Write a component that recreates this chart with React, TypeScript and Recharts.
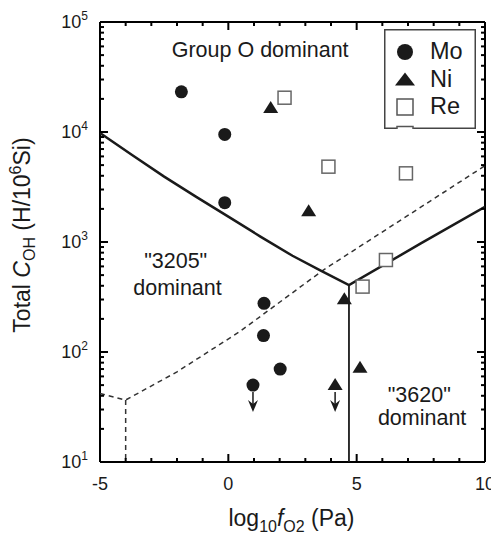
import React from 'react';
import { ScatterChart, Scatter, XAxis, YAxis, Legend, ReferenceDot, ReferenceLine, Label } from 'recharts';

// measured points (log10 fO2, total C_OH)
const moPoints = [
  { x: -1.83, y: 23200 },
  { x: -0.14, y: 9500 },
  { x: -0.14, y: 2280 },
  { x: 1.39, y: 277 },
  { x: 1.37, y: 141 },
  { x: 2.02, y: 70 },
  { x: 0.96, y: 50, limit: true },
];
const niPoints = [
  { x: 1.65, y: 16500 },
  { x: 3.13, y: 1900 },
  { x: 4.52, y: 301 },
  { x: 5.13, y: 72 },
  { x: 4.16, y: 50, limit: true },
];
const rePoints = [
  { x: 2.19, y: 20500 },
  { x: 3.9, y: 4840 },
  { x: 6.92, y: 4210 },
  { x: 6.14, y: 686 },
  { x: 5.23, y: 393 },
];

// field boundaries
const solidBoundary = [
  { x: -5, y: 9800 },
  { x: -3.75, y: 6170 },
  { x: -2.5, y: 3930 },
  { x: -1.25, y: 2570 },
  { x: 0, y: 1700 },
  { x: 1.25, y: 1120 },
  { x: 2.5, y: 750 },
  { x: 3.6, y: 550 },
  { x: 4.7, y: 406 },
  { x: 7.5, y: 970 },
  { x: 10, y: 2090 },
];
const solidVertical = [
  { x: 4.7, y: 406 },
  { x: 4.7, y: 10 },
];
const dashedBoundary = [
  { x: -5, y: 42 },
  { x: -4, y: 36.6 },
  { x: -2, y: 66 },
  { x: 0.44, y: 153 },
  { x: 3.7, y: 556 },
  { x: 10, y: 4940 },
];
const dashedVertical = [
  { x: -4, y: 36.6 },
  { x: -4, y: 10 },
];

const notes = [
  { x: 1.24, y: 48000, text: 'Group O dominant' },
  { x: -2.05, y: 577, text: '"3205"' },
  { x: -1.98, y: 330, text: 'dominant' },
  { x: 7.44, y: 35.3, text: '"3620"' },
  { x: 7.55, y: 21.7, text: 'dominant' },
];

const xTicks = [-5, -4, -3, -2, -1, 0, 1, 2, 3, 4, 5, 6, 7, 8, 9, 10];
const decades = [10, 100, 1000, 10000];
const yTicks = [...decades.flatMap((d) => [1, 2, 3, 4, 5, 6, 7, 8, 9].map((m) => d * m)), 100000];

const FONT = '"Liberation Sans", Arial, Helvetica, sans-serif';
const AXIS = '#000000';
const INK = '#1a1a1a';
const TICK_W = 2;

const isDecade = (v: number) => {
  const l = Math.log10(v);
  return Math.abs(l - Math.round(l)) < 1e-9;
};

// ticks point inward, drawn by hand so major/minor can differ in length
const LeftTick = ({ x, y, payload }: any) => {
  const major = isDecade(payload.value);
  return (
    <g>
      <line x1={x} x2={x + (major ? 8 : 4)} y1={y} y2={y} stroke={AXIS} strokeWidth={TICK_W} />
      {major && (
        <text x={x - 12} y={y + 6} textAnchor="end" fontSize={18} fill={INK} fontFamily={FONT}>
          10
          <tspan dy={-8} fontSize={12}>
            {Math.round(Math.log10(payload.value))}
          </tspan>
        </text>
      )}
    </g>
  );
};

const RightTick = ({ x, y, payload }: any) => {
  const major = isDecade(payload.value);
  return <line x1={x} x2={x - (major ? 8 : 4)} y1={y} y2={y} stroke={AXIS} strokeWidth={TICK_W} />;
};

const BottomTick = ({ x, y, payload }: any) => {
  const major = payload.value % 5 === 0;
  return (
    <g>
      <line x1={x} x2={x} y1={y} y2={y - (major ? 8 : 4)} stroke={AXIS} strokeWidth={TICK_W} />
      {major && (
        <text x={x} y={y + 28} textAnchor="middle" fontSize={18} fill={INK} fontFamily={FONT}>
          {String(payload.value)}
        </text>
      )}
    </g>
  );
};

const TopTick = ({ x, y, payload }: any) => {
  const major = payload.value % 5 === 0;
  return <line x1={x} x2={x} y1={y} y2={y + (major ? 8 : 4)} stroke={AXIS} strokeWidth={TICK_W} />;
};

const LimitArrow = ({ cx, cy }: { cx: number; cy: number }) => (
  <g>
    <line x1={cx} x2={cx} y1={cy + 7} y2={cy + 24} stroke={INK} strokeWidth={1.5} />
    <polygon
      points={`${cx - 5},${cy + 15} ${cx},${cy + 19} ${cx + 5},${cy + 15} ${cx},${cy + 27}`}
      fill={INK}
    />
  </g>
);

const MoShape = ({ cx, cy, payload }: any) => (
  <g>
    <circle cx={cx} cy={cy} r={6.5} fill={INK} />
    {payload.limit && <LimitArrow cx={cx} cy={cy} />}
  </g>
);

const NiShape = ({ cx, cy, payload }: any) => (
  <g>
    <polygon points={`${cx},${cy - 7} ${cx + 7.5},${cy + 5} ${cx - 7.5},${cy + 5}`} fill={INK} />
    {payload.limit && <LimitArrow cx={cx} cy={cy} />}
  </g>
);

const ReShape = ({ cx, cy }: any) => (
  <rect x={cx - 6.5} y={cy - 6.5} width={13} height={13} fill="#fff" stroke="#666" strokeWidth={1.5} />
);

const NoShape = () => <g />;

const NoteShape = (text: string) => ({ cx, cy }: any) => (
  <text x={cx} y={cy} textAnchor="middle" fontSize={21.5} fill={INK} fontFamily={FONT}>
    {text}
  </text>
);

const legendSymbol = (name: string, cx: number, cy: number) => {
  if (name === 'Mo') return <circle cx={cx} cy={cy} r={8} fill={INK} />;
  if (name === 'Ni')
    return <polygon points={`${cx},${cy - 7} ${cx + 10},${cy + 6} ${cx - 10},${cy + 6}`} fill={INK} />;
  return <rect x={cx - 8} y={cy - 8} width={16} height={16} fill="#fff" stroke="#555" strokeWidth={1.5} />;
};

const LegendBox = ({ payload }: any) => (
  <svg width={92} height={100} style={{ display: 'block' }}>
    <rect x={0.75} y={0.75} width={90.5} height={98.5} fill="#fff" stroke="#444" strokeWidth={1.5} />
    {(payload || []).map((entry: any, i: number) => (
      <g key={entry.value}>
        {legendSymbol(entry.value, 21, 23 + i * 27.5)}
        <text x={46} y={30 + i * 27.5} fontSize={23.5} fill={INK} fontFamily={FONT}>
          {entry.value}
        </text>
      </g>
    ))}
  </svg>
);

const YTitle = ({ viewBox }: any) => {
  const x = viewBox.x + 22;
  const y = viewBox.y + viewBox.height / 2 - 7;
  return (
    <text x={x} y={y} transform={`rotate(-90, ${x}, ${y})`} textAnchor="middle" fontSize={23} fill={INK} fontFamily={FONT}>
      Total <tspan fontStyle="italic">C</tspan>
      <tspan fontSize={16} dy={5}>OH</tspan>
      <tspan dy={-5}> (H/10</tspan>
      <tspan fontSize={16} dy={-9}>6</tspan>
      <tspan dy={9}>Si)</tspan>
    </text>
  );
};

const XTitle = ({ viewBox }: any) => {
  const x = viewBox.x + viewBox.width / 2 - 1;
  const y = viewBox.y + 64;
  return (
    <text x={x} y={y} textAnchor="middle" fontSize={23} fill={INK} fontFamily={FONT}>
      log
      <tspan fontSize={16} dy={6}>10</tspan>
      <tspan fontStyle="italic" dy={-6}>f</tspan>
      <tspan fontSize={16} dy={6}>O2</tspan>
      <tspan dy={-6}> (Pa)</tspan>
    </text>
  );
};

export default function App() {
  return (
    <ScatterChart width={491} height={528} margin={{ top: 13, right: 13, bottom: 0, left: 0 }}>
      <XAxis
        type="number"
        dataKey="x"
        domain={[-5, 10]}
        ticks={xTicks}
        interval={0}
        allowDataOverflow
        height={74}
        tickSize={0}
        tickMargin={0}
        tickLine={false}
        tick={BottomTick}
        axisLine={{ stroke: AXIS, strokeWidth: 2 }}
      >
        <Label content={XTitle} />
      </XAxis>
      <XAxis
        xAxisId="top"
        orientation="top"
        type="number"
        dataKey="x"
        domain={[-5, 10]}
        ticks={xTicks}
        interval={0}
        allowDataOverflow
        height={1}
        tickSize={0}
        tickMargin={0}
        tickLine={false}
        tick={TopTick}
        axisLine={{ stroke: AXIS, strokeWidth: 2 }}
      />
      <YAxis
        type="number"
        dataKey="y"
        scale="log"
        domain={[10, 100000]}
        ticks={yTicks}
        interval={0}
        allowDataOverflow
        width={92}
        tickSize={0}
        tickMargin={0}
        tickLine={false}
        tick={LeftTick}
        axisLine={{ stroke: AXIS, strokeWidth: 2 }}
      >
        <Label content={YTitle} />
      </YAxis>
      <YAxis
        yAxisId="right"
        orientation="right"
        type="number"
        dataKey="y"
        scale="log"
        domain={[10, 100000]}
        ticks={yTicks}
        interval={0}
        allowDataOverflow
        width={1}
        tickSize={0}
        tickMargin={0}
        tickLine={false}
        tick={RightTick}
        axisLine={{ stroke: AXIS, strokeWidth: 2 }}
      />

      {/* frame on top and right */}
      <ReferenceLine x={10} stroke={AXIS} strokeWidth={2} ifOverflow="extendDomain" />
      <ReferenceLine y={100000} stroke={AXIS} strokeWidth={2} ifOverflow="extendDomain" />

      <Scatter data={dashedBoundary} xAxisId="top" yAxisId="right" line={{ stroke: '#333', strokeWidth: 1.5, strokeDasharray: '5 4' }} shape={NoShape} legendType="none" isAnimationActive={false} />
      <Scatter data={dashedVertical} xAxisId="top" yAxisId="right" line={{ stroke: '#333', strokeWidth: 1.5, strokeDasharray: '5 4' }} shape={NoShape} legendType="none" isAnimationActive={false} />
      <Scatter data={solidBoundary} line={{ stroke: INK, strokeWidth: 2.5 }} shape={NoShape} legendType="none" isAnimationActive={false} />
      <Scatter data={solidVertical} line={{ stroke: INK, strokeWidth: 1.8 }} shape={NoShape} legendType="none" isAnimationActive={false} />

      <Scatter name="Mo" data={moPoints} fill={INK} shape={MoShape} isAnimationActive={false} />
      <Scatter name="Ni" data={niPoints} fill={INK} shape={NiShape} isAnimationActive={false} />
      <Scatter name="Re" data={rePoints} fill="#fff" shape={ReShape} isAnimationActive={false} />

      {notes.map((n) => (
        <ReferenceDot key={n.text + n.y} x={n.x} y={n.y} r={0} shape={NoteShape(n.text)} />
      ))}

      <Legend
        layout="horizontal"
        verticalAlign="middle"
        align="center"
        content={LegendBox}
        wrapperStyle={{ left: 376, top: 21, width: 92, height: 100 }}
      />
    </ScatterChart>
  );
}
